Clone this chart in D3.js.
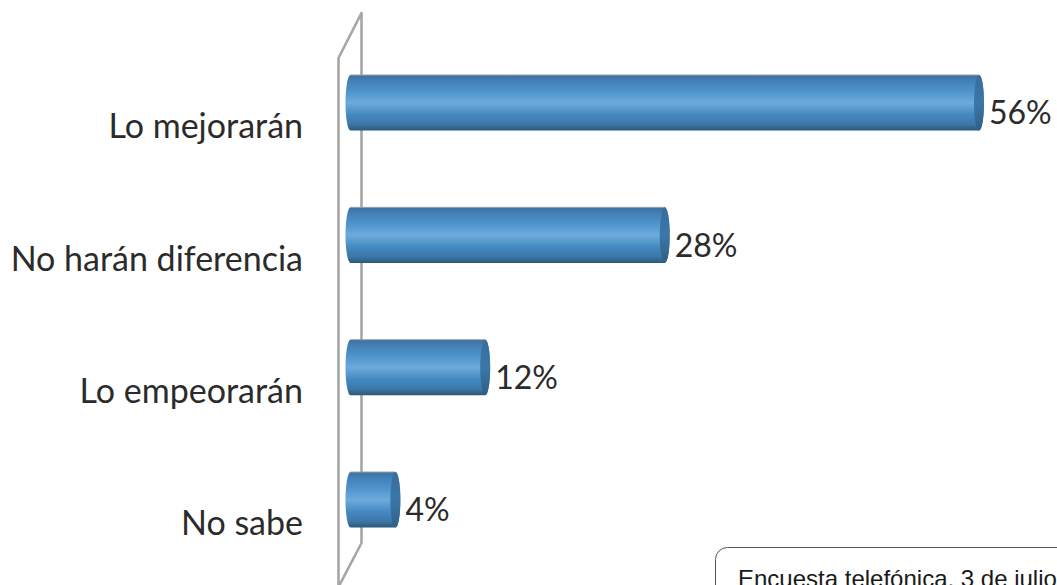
<!DOCTYPE html>
<html><head><meta charset="utf-8">
<script src="https://cdn.jsdelivr.net/npm/d3@7"></script>
<style>html,body{margin:0;padding:0;background:#fff;overflow:hidden}svg{display:block}</style>
</head><body><svg id="c" width="1057" height="585"></svg>
<script>
const categories = ["Lo mejorarán","No harán diferencia","Lo empeorarán","No sabe"];
const values = [56,28,12,4];
const noteText = "Encuesta telefónica, 3 de julio";

const svg = d3.select("#c");
const x = d3.scaleLinear().domain([0,56]).range([350.5,979]);
const y = d3.scaleBand().domain(categories).range([75,527.6]).paddingInner(0.58).paddingOuter(0);
const rx = 5;

const defs = svg.append("defs");
const g = defs.append("linearGradient").attr("id","body").attr("x1",0).attr("x2",0).attr("y1",0).attr("y2",1);
[[0,"#3f6f9c"],[0.1,"#4280b5"],[0.28,"#4d92cb"],[0.5,"#6dabdc"],[0.72,"#4488c1"],[0.88,"#3d78aa"],[1,"#2c5878"]]
  .forEach(d=>g.append("stop").attr("offset",d[0]).attr("stop-color",d[1]));
const g2 = defs.append("linearGradient").attr("id","cap").attr("x1",0).attr("x2",0).attr("y1",0).attr("y2",1);
[[0,"#3a6d9a"],[0.5,"#3a77a8"],[1,"#2f5f85"]].forEach(d=>g2.append("stop").attr("offset",d[0]).attr("stop-color",d[1]));

// wall
svg.append("path").attr("fill","none").attr("stroke","#a6a6a6").attr("stroke-width",2.6)
  .attr("stroke-linejoin","round")
  .attr("d",d3.line()([[338.5,587],[338.5,58],[361.5,13],[361.5,543],[338.5,587]]));

const bars = svg.selectAll("g.bar").data(values).join("g").attr("class","bar");
bars.append("path").attr("fill","url(#body)")
  .attr("d",(d,i)=>{
    const t=y(categories[i]),h=y.bandwidth(),x0=x(0),x1=x(d);
    return `M${x0},${t}L${x1},${t}A${rx},${h/2} 0 0 1 ${x1},${t+h}L${x0},${t+h}A${rx},${h/2} 0 0 1 ${x0},${t}Z`;
  });
bars.append("line").attr("stroke","#98a3ad").attr("stroke-width",1)
  .attr("x1",x(0)).attr("x2",d=>x(d))
  .attr("y1",(d,i)=>y(categories[i])).attr("y2",(d,i)=>y(categories[i]));
bars.append("ellipse").attr("fill","url(#cap)")
  .attr("cx",d=>x(d)).attr("cy",(d,i)=>y(categories[i])+y.bandwidth()/2)
  .attr("rx",rx).attr("ry",y.bandwidth()/2);

svg.selectAll("text.cat").data(categories).join("text").attr("class","cat")
  .attr("x",303).attr("y",d=>y(d)+y.bandwidth()/2+35.5).attr("text-anchor","end")
  .attr("font-family","Lato").attr("font-size",34).attr("fill","#2b2b2b").text(d=>d);

svg.selectAll("text.val").data(values).join("text").attr("class","val")
  .attr("x",d=>x(d)+10).attr("y",(d,i)=>y(categories[i])+y.bandwidth()/2+21.5).attr("text-anchor","start")
  .attr("font-family","Lato").attr("font-size",32).attr("fill","#2b2b2b").text(d=>d+"%");

// note box, cut by the page edge as in the source picture
svg.append("rect").attr("x",715.5).attr("y",547.5).attr("width",400).attr("height",80).attr("rx",12)
  .attr("fill","#fff").attr("stroke","#555").attr("stroke-width",1);
svg.append("text").attr("x",738).attr("y",587).attr("font-family","Liberation Sans").attr("font-size",24)
  .attr("fill","#1a1a1a").text(noteText);
</script></body></html>
